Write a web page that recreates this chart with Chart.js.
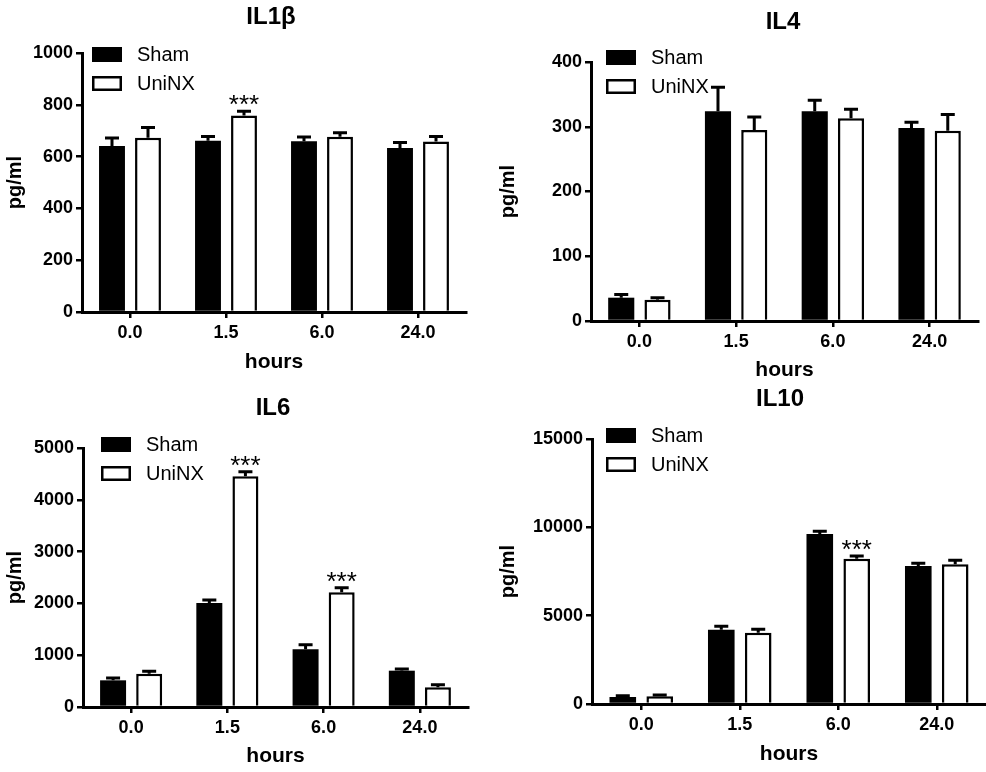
<!DOCTYPE html>
<html>
<head>
<meta charset="utf-8">
<script src="https://cdn.jsdelivr.net/npm/chart.js@4/dist/chart.umd.min.js"></script>
<style>
  body { margin: 0; background: #fff; }
  #wrap { position: relative; width: 986px; height: 772px; }
  #wrap canvas { position: absolute; }
</style>
</head>
<body>
<div id="wrap">
  <canvas id="c1" width="493" height="386" style="left:0;top:0"></canvas>
  <canvas id="c2" width="493" height="386" style="left:493px;top:0"></canvas>
  <canvas id="c3" width="493" height="386" style="left:0;top:386px"></canvas>
  <canvas id="c4" width="493" height="386" style="left:493px;top:386px"></canvas>
</div>
<script>
const hours = ['0.0', '1.5', '6.0', '24.0'];
const seriesNames = ['Sham', 'UniNX'];

// IL1β
const il1bSham = [641, 661, 659, 633];
const il1bShamSem = [31, 17, 17, 21];
const il1bUni = [673, 759, 677, 658];
const il1bUniSem = [39, 16, 15, 20];
const il1bSig = [false, true, false, false];
const il1bTicks = [0, 200, 400, 600, 800, 1000];

// IL4
const il4Sham = [36, 324, 324, 298];
const il4ShamSem = [5, 37, 17, 9];
const il4Uni = [33, 295, 313, 294];
const il4UniSem = [3, 20, 14, 25];
const il4Sig = [false, false, false, false];
const il4Ticks = [0, 100, 200, 300, 400];

// IL6
const il6Sham = [515, 2008, 1113, 701];
const il6ShamSem = [45, 58, 90, 33];
const il6Uni = [643, 4453, 2214, 380];
const il6UniSem = [47, 90, 90, 51];
const il6Sig = [false, true, true, false];
const il6Ticks = [0, 1000, 2000, 3000, 4000, 5000];

// IL10
const il10Sham = [397, 4199, 9627, 7812];
const il10ShamSem = [76, 208, 152, 151];
const il10Uni = [435, 4029, 8228, 7906];
const il10UniSem = [75, 208, 151, 227];
const il10Sig = [false, false, true, false];
const il10Ticks = [0, 5000, 10000, 15000];

const FONT = '"Liberation Sans", Arial, sans-serif';

// where each panel's plot area, title and legend sit inside its 493x386 canvas
const panels = [
  { id: 'c1', title: 'IL1β', sham: il1bSham, shamSem: il1bShamSem, uni: il1bUni, uniSem: il1bUniSem, sig: il1bSig, ticks: il1bTicks,
    left: 82, right: 466, top: 53, bottom: 312, titleX: 271, titleY: 17, legX: 92, legY: 47, xTitlePad: 11 },
  { id: 'c2', title: 'IL4', sham: il4Sham, shamSem: il4ShamSem, uni: il4Uni, uniSem: il4UniSem, sig: il4Sig, ticks: il4Ticks,
    left: 98, right: 485, top: 62, bottom: 321, titleX: 290, titleY: 22, legX: 113, legY: 50, xTitlePad: 3 },
  { id: 'c3', title: 'IL6', sham: il6Sham, shamSem: il6ShamSem, uni: il6Uni, uniSem: il6UniSem, sig: il6Sig, ticks: il6Ticks,
    left: 83, right: 468, top: 62, bottom: 321, titleX: 273, titleY: 22, legX: 101, legY: 51, xTitlePad: 3 },
  { id: 'c4', title: 'IL10', sham: il10Sham, shamSem: il10ShamSem, uni: il10Uni, uniSem: il10UniSem, sig: il10Sig, ticks: il10Ticks,
    left: 99, right: 493, top: 53, bottom: 318, titleX: 287, titleY: 13, legX: 113, legY: 42, xTitlePad: 5 }
];

// SEM bars (upward only), significance stars, legend and title
const extrasPlugin = {
  id: 'extras',
  afterDatasetsDraw(chart) {
    const ctx = chart.ctx;
    const yScale = chart.scales.y;
    ctx.save();
    ctx.strokeStyle = '#000';
    ctx.lineWidth = 3;
    chart.data.datasets.forEach((ds, i) => {
      const meta = chart.getDatasetMeta(i);
      meta.data.forEach((bar, j) => {
        const top = yScale.getPixelForValue(ds.data[j] + ds.sem[j]);
        ctx.beginPath();
        ctx.moveTo(bar.x, bar.y);
        ctx.lineTo(bar.x, top);
        ctx.moveTo(bar.x - 7, top);
        ctx.lineTo(bar.x + 7, top);
        ctx.stroke();
        if (ds.sig && ds.sig[j]) {
          ctx.fillStyle = '#000';
          ctx.font = '26px ' + FONT;
          ctx.textAlign = 'center';
          ctx.textBaseline = 'alphabetic';
          ctx.fillText('***', bar.x, top + 2);
        }
      });
    });
    ctx.restore();
  },
  afterDraw(chart) {
    const p = chart.options.plugins.extras;
    const ctx = chart.ctx;
    ctx.save();
    ctx.fillStyle = '#000';
    ctx.font = 'bold 24px ' + FONT;
    ctx.textAlign = 'center';
    ctx.textBaseline = 'middle';
    ctx.fillText(p.title, p.titleX, p.titleY);

    ctx.font = '20px ' + FONT;
    ctx.textAlign = 'left';
    chart.data.datasets.forEach((ds, i) => {
      const y = p.legY + i * 29;
      if (ds.borderWidth) {
        ctx.fillStyle = '#fff';
        ctx.fillRect(p.legX, y, 30, 15);
        ctx.strokeStyle = '#000';
        ctx.lineWidth = 2.5;
        ctx.strokeRect(p.legX + 1.25, y + 1.25, 27.5, 12.5);
      } else {
        ctx.fillStyle = '#000';
        ctx.fillRect(p.legX, y, 30, 15);
      }
      ctx.fillStyle = '#000';
      ctx.fillText(ds.label, p.legX + 45, y + 8);
    });
    ctx.restore();
  }
};

function makeChart(p) {
  const ctx = document.getElementById(p.id).getContext('2d');
  const tickFont = { family: FONT, size: 18, weight: 'bold' };
  return new Chart(ctx, {
    type: 'bar',
    data: {
      labels: hours,
      datasets: [
        { label: seriesNames[0], data: p.sham, sem: p.shamSem, backgroundColor: '#000', borderWidth: 0 },
        { label: seriesNames[1], data: p.uni, sem: p.uniSem, sig: p.sig, backgroundColor: '#fff', borderColor: '#000', borderWidth: 2.5 }
      ]
    },
    options: {
      responsive: false,
      animation: false,
      categoryPercentage: 0.75,
      barPercentage: 0.72,
      layout: { padding: { left: 0, top: p.top, right: 493 - p.right, bottom: 0 } },
      plugins: {
        legend: { display: false },
        tooltip: { enabled: false },
        extras: { title: p.title, titleX: p.titleX, titleY: p.titleY, legX: p.legX, legY: p.legY }
      },
      scales: {
        x: {
          offset: true,
          grid: { offset: false, drawOnChartArea: false, tickLength: 6, color: '#000', lineWidth: 2.5 },
          border: { display: true, color: '#000', width: 3 },
          ticks: { color: '#000', font: tickFont, padding: 4 },
          title: { display: true, text: 'hours', color: '#000', font: { family: FONT, size: 21, weight: 'bold' }, padding: { top: 0, bottom: p.xTitlePad } },
          afterFit(scale) { scale.height = 386 - p.bottom; }
        },
        y: {
          min: p.ticks[0],
          max: p.ticks[p.ticks.length - 1],
          afterBuildTicks(scale) { scale.ticks = p.ticks.map(v => ({ value: v })); },
          grid: { drawOnChartArea: false, tickLength: 6, color: '#000', lineWidth: 2.5 },
          border: { display: true, color: '#000', width: 3 },
          ticks: { color: '#000', font: tickFont, padding: 3, callback: v => String(v) },
          title: { display: true, text: 'pg/ml', color: '#000', font: { family: FONT, size: 20, weight: 'bold' }, padding: { top: 3, bottom: 0 } },
          afterFit(scale) { scale.width = p.left; }
        }
      }
    },
    plugins: [extrasPlugin]
  });
}

panels.forEach(makeChart);
</script>
</body>
</html>
